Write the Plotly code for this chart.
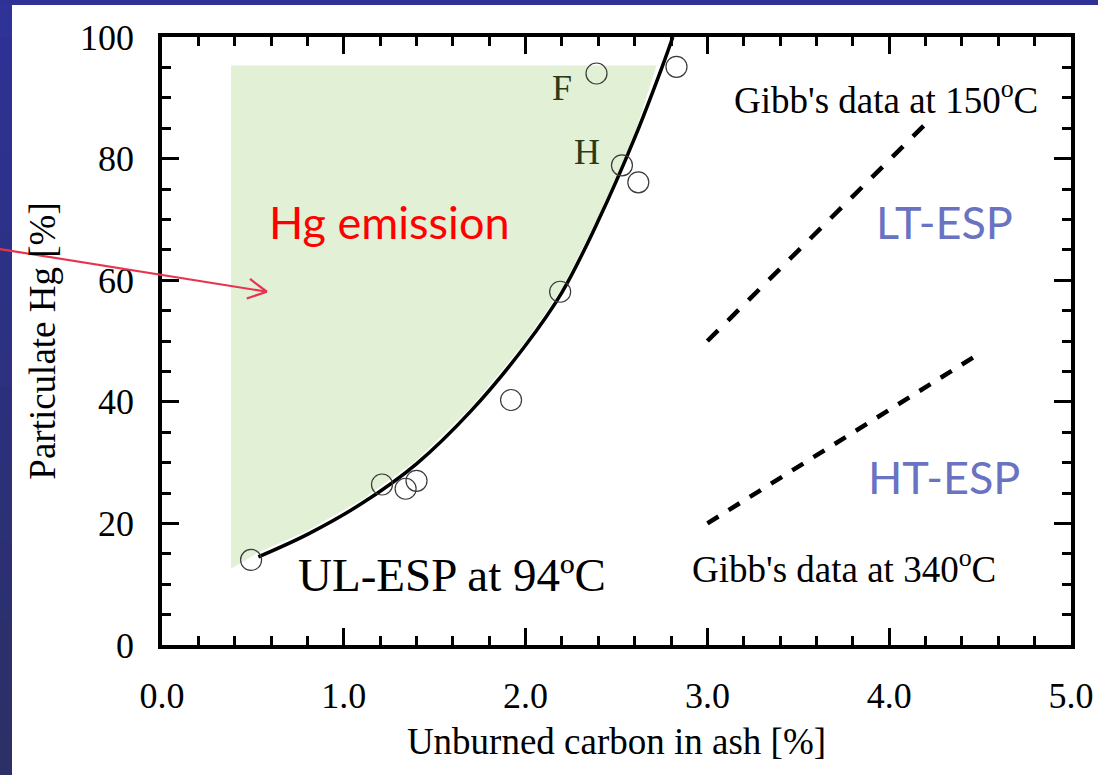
import plotly.graph_objects as go

# ---- data ----
points_x = [0.49, 1.21, 1.34, 1.40, 1.92, 2.19, 2.39, 2.53, 2.62, 2.83]
points_y = [14.0, 26.4, 25.7, 27.0, 40.3, 58.1, 94.0, 78.9, 76.1, 95.1]

curve_x = [0.53, 0.80, 1.10, 1.40, 1.70, 2.00, 2.20, 2.40, 2.60, 2.75, 2.81]
curve_y = [14.5, 18.2, 23.3, 29.8, 38.5, 49.3, 58.0, 69.8, 83.4, 95.0, 100.0]

region_x = [0.38, 2.72, 2.60, 2.40, 2.20, 2.00, 1.70, 1.40, 1.10, 0.80, 0.53, 0.38]
region_y = [95.3, 95.3, 84.0, 70.4, 58.6, 49.9, 39.1, 30.4, 23.9, 18.8, 15.2, 12.6]

lt_x = [3.0, 4.21]
lt_y = [50.0, 86.0]
ht_x = [3.0, 4.50]
ht_y = [20.0, 48.0]

x_ticks = [0, 1, 2, 3, 4, 5]
x_tick_labels = ["0.0", "1.0", "2.0", "3.0", "4.0", "5.0"]
y_ticks = [0, 20, 40, 60, 80, 100]
y_tick_labels = ["0", "20", "40", "60", "80", "100"]

X_RANGE = [0, 5]
Y_RANGE = [0, 100]

SERIF = "Liberation Serif, Times New Roman, serif"
SANS = "Lato, Open Sans, sans-serif"

fig = go.Figure()

fig.add_trace(go.Scatter(x=region_x, y=region_y, mode="lines", fill="toself",
                         fillcolor="#e2f0d6", line=dict(width=0), hoverinfo="skip",
                         showlegend=False))
fig.add_trace(go.Scatter(x=lt_x, y=lt_y, mode="lines",
                         line=dict(color="black", width=4.5, dash="15px,14px"),
                         showlegend=False))
fig.add_trace(go.Scatter(x=ht_x, y=ht_y, mode="lines",
                         line=dict(color="black", width=4.5, dash="13px,12px"),
                         showlegend=False))
fig.add_trace(go.Scatter(x=curve_x, y=curve_y, mode="lines",
                         line=dict(color="black", width=3.5, shape="spline"),
                         showlegend=False))
fig.add_trace(go.Scatter(x=points_x, y=points_y, mode="markers",
                         marker=dict(size=21, color="rgba(0,0,0,0)",
                                     line=dict(color="#3a3a3a", width=1.2)),
                         showlegend=False))
# invisible trace that carries the mirrored (top / right) axes
fig.add_trace(go.Scatter(x=[None], y=[None], xaxis="x2", yaxis="y2",
                         mode="markers", showlegend=False, hoverinfo="skip"))

# ---- background frame (blue strips) ----
W, H = 1098, 775
ml, mr, mt, mb = 162, 27, 37, 130
pw, ph = W - ml - mr, H - mt - mb


def px2paper_x(px):
    return (px - ml) / pw


def py2paper_y(py):
    return (H - mb - py) / ph


shapes = []
nb = 20
for i in range(nb):
    t = i / (nb - 1)
    r = int(47 + (43 - 47) * t)
    g = int(50 + (48 - 50) * t)
    b = int(150 + (102 - 150) * t)
    shapes.append(dict(type="rect", xref="paper", yref="paper", layer="below",
                       x0=px2paper_x(-2), x1=px2paper_x(12),
                       y0=py2paper_y(H * i / nb - 1), y1=py2paper_y(H * (i + 1) / nb + 1),
                       fillcolor=f"rgb({r},{g},{b})", line=dict(width=0)))
shapes.append(dict(type="rect", xref="paper", yref="paper", layer="below",
                   x0=px2paper_x(-2), x1=px2paper_x(W + 2), y0=py2paper_y(-2), y1=py2paper_y(5),
                   fillcolor="rgb(46,50,148)", line=dict(width=0)))

# ---- red arrow (data coords converted to paper) ----
def d2p(x, y):
    return ((x - X_RANGE[0]) / (X_RANGE[1] - X_RANGE[0]),
            (y - Y_RANGE[0]) / (Y_RANGE[1] - Y_RANGE[0]))

arrow_start = (-0.95, 65.4)
arrow_tip = (0.577, 58.1)
arm_up = (0.484, 60.2)
arm_dn = (0.466, 57.0)
red = "#e8334f"
for a, b in [(arrow_start, arrow_tip), (arm_up, arrow_tip), (arm_dn, arrow_tip)]:
    p0, p1 = d2p(*a), d2p(*b)
    shapes.append(dict(type="line", xref="paper", yref="paper", layer="above",
                       x0=p0[0], y0=p0[1], x1=p1[0], y1=p1[1],
                       line=dict(color=red, width=2.2)))

annotations = [
    dict(x=4.302, y=69.6, text="LT-ESP", font=dict(family=SANS, size=45, color="#6a72c2")),
    dict(x=4.302, y=27.7, text="HT-ESP", font=dict(family=SANS, size=45, color="#6a72c2")),
    dict(x=1.253, y=69.5, text="Hg emission", font=dict(family=SANS, size=45, color="#ff0000")),
    dict(x=3.981, y=90.1, text="Gibb's data at 150<sup>o</sup>C",
         font=dict(family=SERIF, size=37, color="black")),
    dict(x=3.753, y=12.9, text="Gibb's data at 340<sup>o</sup>C",
         font=dict(family=SERIF, size=37, color="black")),
    dict(x=1.593, y=11.5, text="UL-ESP at 94ºC", font=dict(family=SERIF, size=47, color="black")),
    dict(x=2.198, y=91.6, text="F", font=dict(family=SERIF, size=36, color="#2b3a1b")),
    dict(x=2.335, y=81.1, text="H", font=dict(family=SERIF, size=36, color="#2b3a1b")),
]
for a in annotations:
    a.update(xref="x", yref="y", showarrow=False, xanchor="center", yanchor="middle")

axis_common = dict(showline=True, linecolor="black", linewidth=3.5,
                   ticks="inside", ticklen=17, tickwidth=2.5, tickcolor="black",
                   showgrid=False, zeroline=False, automargin=False,
                   tickfont=dict(family=SERIF, size=36, color="black"))
x_minor = dict(dtick=0.2, ticks="inside", ticklen=9, tickwidth=2.5,
               tickcolor="black", showgrid=False)
y_minor = dict(dtick=5, ticks="inside", ticklen=9, tickwidth=2.5,
               tickcolor="black", showgrid=False)

fig.update_layout(
    width=W, height=H,
    margin=dict(l=ml, r=mr, t=mt, b=mb),
    paper_bgcolor="white", plot_bgcolor="white",
    shapes=shapes, annotations=annotations,
    xaxis=dict(range=X_RANGE, tickvals=x_ticks, ticktext=x_tick_labels,
               minor=x_minor, ticklabelstandoff=16,
               title=dict(text="Unburned carbon in ash [%]",
                          font=dict(family=SERIF, size=37, color="black"), standoff=14),
               **axis_common),
    yaxis=dict(range=Y_RANGE, tickvals=y_ticks, ticktext=y_tick_labels,
               minor=y_minor, ticklabelstandoff=17,
               title=dict(text="Particulate Hg [%]",
                          font=dict(family=SERIF, size=37, color="black"), standoff=14),
               **axis_common),
    xaxis2=dict(range=X_RANGE, tickvals=x_ticks, showticklabels=False, overlaying="x",
                side="top", minor=x_minor, **axis_common),
    yaxis2=dict(range=Y_RANGE, tickvals=y_ticks, showticklabels=False, overlaying="y",
                side="right", minor=y_minor, **axis_common),
)

fig.write_html("out.html")
